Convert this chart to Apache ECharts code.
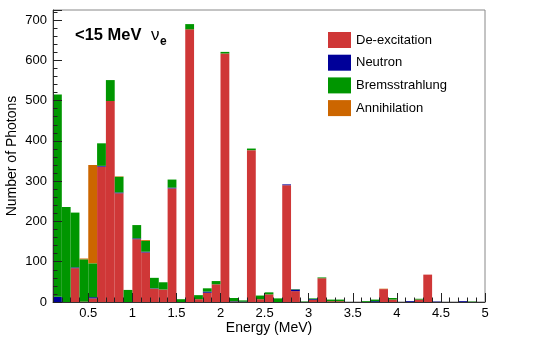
<!DOCTYPE html>
<html lang="en">
<head>
    <meta charset="UTF-8">
    <title>Photons</title>
    <style>
        body{margin:0;background:#fff;}
    </style>
</head>
<body>
<div class="main" style="width: 538px;height:340px;"></div>
<script src="https://cdn.jsdelivr.net/npm/echarts@6/dist/echarts.min.js"></script>
<script>
    // bins of 0.1 MeV, from 0.1 to 5.0
    var binStart = 0.1, binWidth = 0.1;
    var deexcitation = [0,0,84,1,9,336,499,270,0,156,123,33,31,282,0,677,7,23,44,617,
        1,0,377,7,19,0,290,27,0,5,59,2,2,0,0,0,0,32,6,0,0,6,68,0,0,0,0,0,0];
    var neutron = [13,0,2,0,3,2,0,2,0,2,2,1,0,2,0,0,0,3,0,0,
        1,1,0,0,0,0,2,4,0,2,0,0,0,0,0,0,2,0,0,0,2,0,0,1,0,0,2,0,0];
    var bremsstrahlung = [502,236,136,105,84,56,52,39,30,33,27,26,18,20,7,13,10,8,8,4,
        8,3,4,9,5,9,0,1,1,2,2,4,4,0,0,2,4,0,4,0,0,2,0,0,0,0,0,1,0];
    var annihilation = [0,0,0,2,244,0,0,1,0,0,2,0,0,0,0,0,0,0,0,0,
        0,0,0,0,0,0,0,0,0,0,0,0,0,0,0,0,0,1,0,0,0,0,0,0,0,0,0,0,0];
    var xLabels = [0.5,1,1.5,2,2.5,3,3.5,4,4.5,5];
    var xMinorTicks = [];
    var bins = [];
    for (var i = 0; i < deexcitation.length; i++) {
        bins.push((binStart + i * binWidth).toFixed(1));
        xMinorTicks.push(+(binStart + i * binWidth).toFixed(1));
    }
    xMinorTicks.push(5);

    var font = 'Liberation Sans, Arial, Helvetica, sans-serif';
    var main = document.getElementsByClassName('main')[0];
    var myChart = echarts.init(main);

    function bar(name, data, color) {
        return {
            name: name,
            type: 'bar',
            stack: 'all',
            xAxisIndex: 0,
            yAxisIndex: 0,
            barCategoryGap: '0%',
            barGap: '0%',
            itemStyle: {color: color},
            emphasis: {disabled: true},
            data: data
        };
    }

    var option = {
        animation: false,
        grid: {left: 53, right: 53, top: 10, bottom: 38, show: true, borderColor: '#888', borderWidth: 1,
            outerBoundsMode: 'none', containLabel: false},
        graphic: [
            {type: 'text', left: 75, top: 27, style: {text: '<15 MeV', font: 'bold 16.5px ' + font, fill: '#000'}},
            {type: 'text', left: 151, top: 27, style: {text: 'ν', font: '17px ' + font, fill: '#000'}},
            {type: 'text', left: 160, top: 36, style: {text: 'e', font: 'bold 12px ' + font, fill: '#000'}}
        ],
        legend: {
            orient: 'vertical',
            left: 328,
            top: 32,
            padding: 0,
            itemWidth: 23,
            itemHeight: 16,
            itemGap: 6.7,
            icon: 'rect',
            textStyle: {fontFamily: font, fontSize: 13, color: '#000'},
            data: ['De-excitation', 'Neutron', 'Bremsstrahlung', 'Annihilation']
        },
        xAxis: [
            {
                type: 'category',
                data: bins,
                show: false
            },
            {
                type: 'value',
                min: 0.1,
                max: 5,
                position: 'bottom',
                z: 10,
                name: 'Energy (MeV)',
                nameLocation: 'middle',
                nameGap: 19,
                nameMoveOverlap: false,
                nameTextStyle: {fontFamily: font, fontSize: 14, color: '#000'},
                axisLine: {show: true, lineStyle: {color: '#333'}},
                axisTick: {inside: true, length: 9, customValues: xLabels, lineStyle: {color: '#222'}},
                axisLabel: {customValues: xLabels, margin: 5, fontFamily: font, fontSize: 13, color: '#000'},
                splitLine: {show: false}
            },
            {
                type: 'value',
                min: 0.1,
                max: 5,
                position: 'bottom',
                z: 10,
                axisLine: {show: false},
                axisTick: {inside: true, length: 4.5, customValues: xMinorTicks, lineStyle: {color: '#222'}},
                axisLabel: {show: false},
                splitLine: {show: false}
            }
        ],
        yAxis: {
            type: 'value',
            min: 0,
            max: 725,
            interval: 100,
            z: 10,
            name: 'Number of Photons',
            nameLocation: 'middle',
            nameGap: 34,
            nameMoveOverlap: false,
            nameTextStyle: {fontFamily: font, fontSize: 14, color: '#000'},
            axisLine: {show: true, lineStyle: {color: '#333'}},
            axisTick: {inside: true, length: 9, lineStyle: {color: '#222'}},
            minorTick: {show: true, splitNumber: 5, length: 4.5, lineStyle: {color: '#222'}},
            axisLabel: {showMaxLabel: false, margin: 6, fontFamily: font, fontSize: 13, color: '#000'},
            splitLine: {show: false}
        },
        series: [
            bar('De-excitation', deexcitation, '#cf3737'),
            bar('Neutron', neutron, '#000099'),
            bar('Bremsstrahlung', bremsstrahlung, '#009600'),
            bar('Annihilation', annihilation, '#cc6600')
        ]
    };

    myChart.setOption(option);
</script>
</body>
</html>
